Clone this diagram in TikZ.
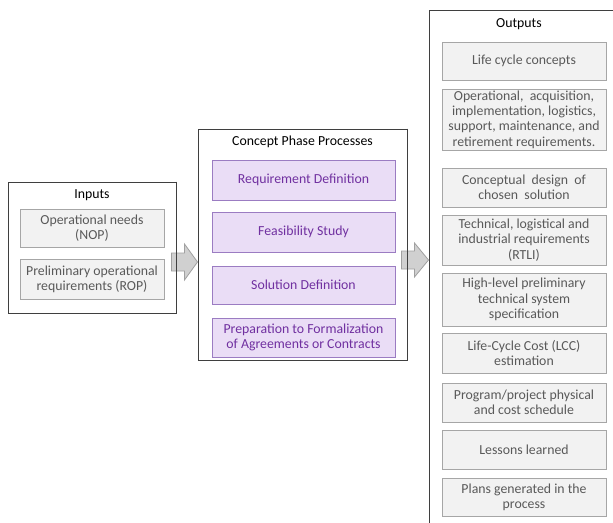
\documentclass[tikz,border=0pt]{standalone}
\usepackage{fontspec}
\setmainfont{Carlito}
\definecolor{frame}{HTML}{3F3F3F}
\definecolor{greyfill}{HTML}{F2F2F2}
\definecolor{greyline}{HTML}{A6A6A6}
\definecolor{greytext}{HTML}{595959}
\definecolor{lilacfill}{HTML}{EADDF6}
\definecolor{lilacline}{HTML}{9B7CC2}
\definecolor{lilactext}{HTML}{7030A0}
\definecolor{arrowfill}{HTML}{D0D0D0}
\definecolor{arrowline}{HTML}{A0A0A0}
\begin{document}
\begin{tikzpicture}[x=1pt,y=-1pt,
  every node/.style={font=\fontsize{13.8}{15.3}\selectfont, inner sep=0pt, align=center},
  group/.style={draw=frame, line width=1pt, fill=white},
  title/.style={text=black},
  greybox/.style={draw=greyline, line width=0.8pt, fill=greyfill, text=greytext},
  lilacbox/.style={draw=lilacline, line width=0.9pt, fill=lilacfill, text=lilactext},
  blockarrow/.style={draw=arrowline, line width=0.8pt, fill=arrowfill, line join=miter}]
\clip (0,0) rectangle (613,522);
\fill[white] (0,0) rectangle (613,522);

% --- Inputs ---
\node[group, minimum width=168pt, minimum height=131pt] (inputs) at (92,247.5) {};
\node[title] (inputsT) at (92,195) {Inputs};
\node[greybox, minimum width=144pt, minimum height=38pt] (nop) at (92,228) {Operational needs\\(NOP)};
\node[greybox, minimum width=144pt, minimum height=40pt] (rop) at (92,279) {Preliminary operational\\requirements (ROP)};

% --- Concept phase processes ---
\node[group, minimum width=209pt, minimum height=231pt] (concept) at (302.5,244.5) {};
\node[title] (conceptT) at (302.5,142) {Concept Phase Processes};
\node[lilacbox, minimum width=183pt, minimum height=40pt] (req) at (303.5,180) {Requirement Definition};
\node[lilacbox, minimum width=183pt, minimum height=40pt] (feas) at (303.5,232) {Feasibility Study};
\node[lilacbox, minimum width=183pt, minimum height=38pt] (sol) at (303.5,285) {Solution Definition};
\node[lilacbox, minimum width=183pt, minimum height=39pt] (prep) at (303.5,337.5) {Preparation to Formalization\\of Agreements or Contracts};

% --- Outputs (frame runs past the right and bottom edges) ---
\node[group, minimum width=211pt, minimum height=560pt] (outputs) at (534.5,290) {};
\node[title] (outputsT) at (519,24) {Outputs};
\node[greybox, minimum width=164pt, minimum height=38pt] (o1) at (524,61) {Life cycle concepts};
\node[greybox, minimum width=164pt, minimum height=61pt] (o2) at (524,119.5) {Operational,\ \ acquisition,\\implementation, logistics,\\support, maintenance, and\\retirement requirements.};
\node[greybox, minimum width=164pt, minimum height=39pt] (o3) at (524,187.5) {Conceptual\ \ design\ \ of\\chosen\ \ solution};
\node[greybox, minimum width=164pt, minimum height=50pt] (o4) at (524,240) {Technical, logistical and\\industrial requirements\\(RTLI)};
\node[greybox, minimum width=164pt, minimum height=53pt] (o5) at (524,299.5) {High-level preliminary\\technical system\\specification};
\node[greybox, minimum width=164pt, minimum height=40pt] (o6) at (524,353) {Life-Cycle Cost (LCC)\\estimation};
\node[greybox, minimum width=164pt, minimum height=39pt] (o7) at (524,402.5) {Program/project physical\\and cost schedule};
\node[greybox, minimum width=164pt, minimum height=39pt] (o8) at (524,449.5) {Lessons learned};
\node[greybox, minimum width=164pt, minimum height=38pt] (o9) at (524,497) {Plans generated in the\\process};

% --- Block arrows between the groups ---
\coordinate (a1) at (concept.west |- 0,262);
\draw[blockarrow] (a1) -- ++(-13,-18) -- ++(0,9) -- ++(-13,0) -- ++(0,18) -- ++(13,0) -- ++(0,9) -- cycle;
\coordinate (a2) at (outputs.west |- 0,260);
\draw[blockarrow] (a2) -- ++(-14,-17) -- ++(0,8) -- ++(-13,0) -- ++(0,18) -- ++(13,0) -- ++(0,8) -- cycle;

% frame edges stay visible over the arrow tails
\draw[frame, line width=1pt] (inputs.north east) -- (inputs.south east);
\draw[frame, line width=1pt] (concept.north east) -- (concept.south east);
\end{tikzpicture}
\end{document}
